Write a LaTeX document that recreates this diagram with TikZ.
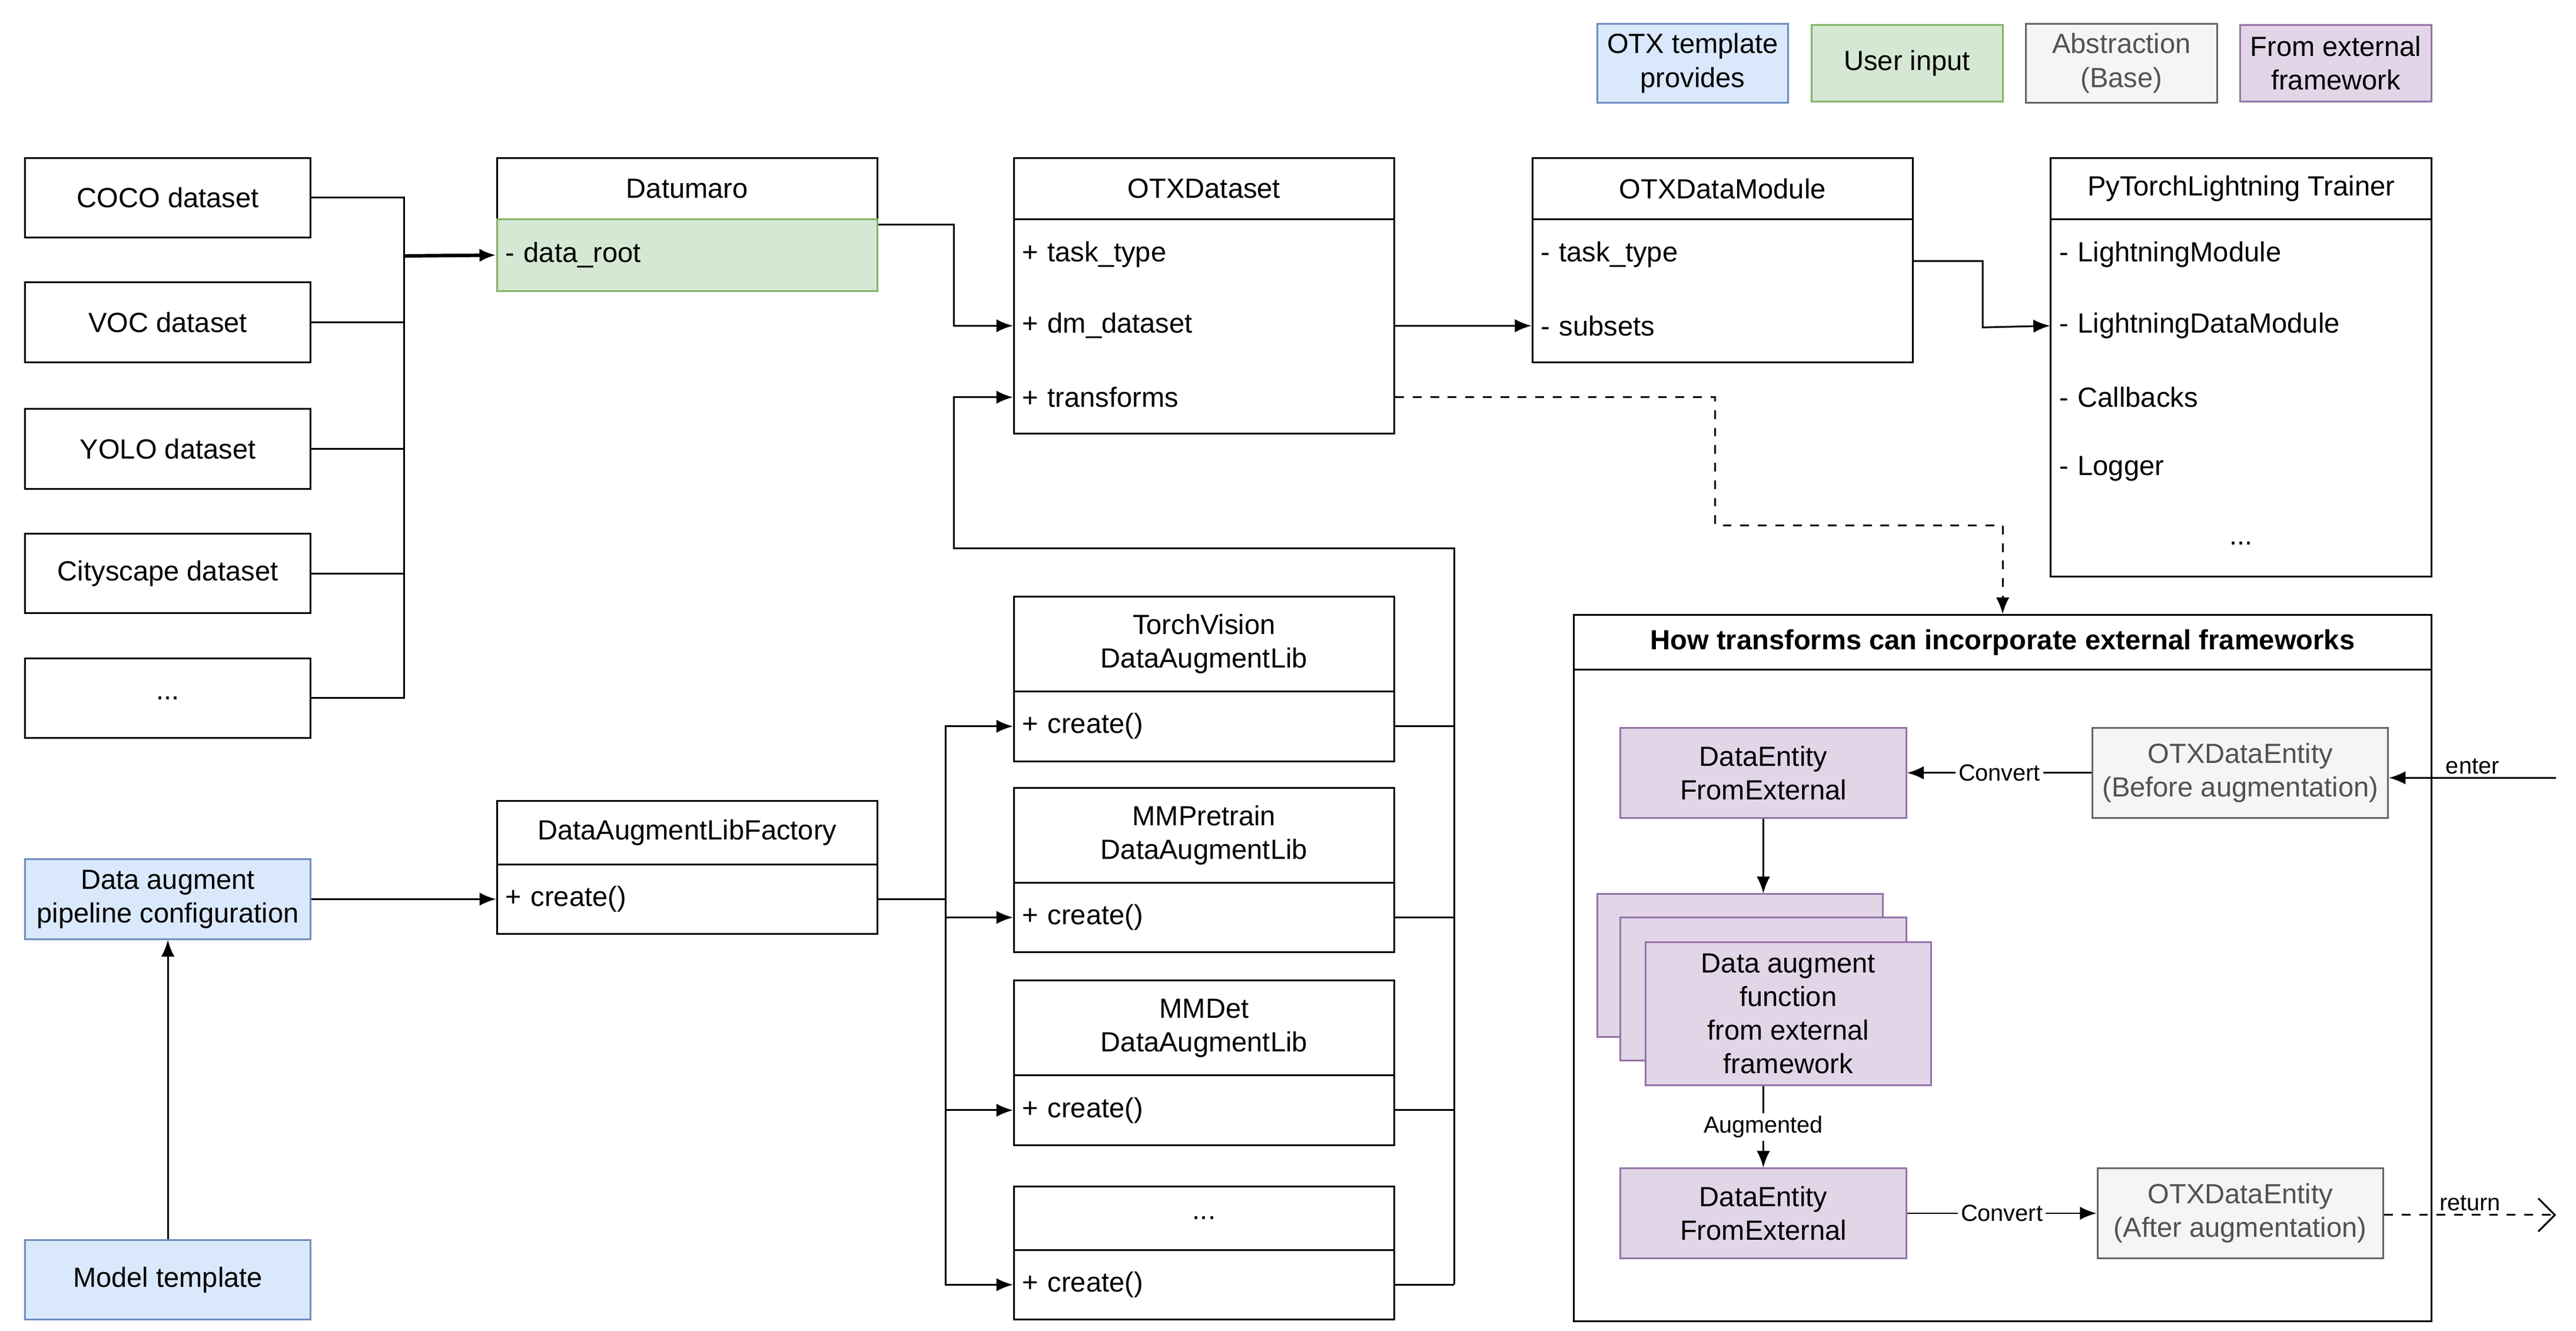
\documentclass[tikz,border=0pt]{standalone}
\usepackage{fontspec}
\setmainfont{Liberation Sans}
\usetikzlibrary{arrows.meta}
\definecolor{tplfill}{HTML}{DAE8FC}\definecolor{tpldraw}{HTML}{6C8EBF}
\definecolor{usrfill}{HTML}{D5E8D4}\definecolor{usrdraw}{HTML}{82B366}
\definecolor{absfill}{HTML}{F5F5F5}\definecolor{absdraw}{HTML}{666666}
\definecolor{extfill}{HTML}{E1D5E7}\definecolor{extdraw}{HTML}{9673A6}
\tikzset{
  box/.style = {draw, minimum width=3.44cm, minimum height=0.96cm, align=center},
  tpl/.style = {box, fill=tplfill, draw=tpldraw},
  usr/.style = {box, fill=usrfill, draw=usrdraw},
  abs/.style = {box, fill=absfill, draw=absdraw, text=absdraw!80!black},
  ext/.style = {box, fill=extfill, draw=extdraw},
  legend/.style = {minimum width=2.3cm, minimum height=0.92cm, align=center},
  head/.style = {draw, minimum width=4.58cm, align=center},
  row/.style = {text width=4.38cm, inner sep=0.1cm, align=left},
  lbl/.style = {fill=white, inner sep=1pt, font=\fontsize{8}{9}\selectfont},
}
\begin{document}
\begin{tikzpicture}[x=0.02cm, y=-0.02cm, line width=0.6pt, >={Latex[length=2mm,width=1.6mm]},
  font=\fontsize{9.5}{11.5}\selectfont]
\useasboundingbox (0,0) rectangle (1550,800.5);
% Legende
\node[tpl, legend] (lg-tpl) at (1018.5,38) {OTX template\\provides};
\node[usr, legend] (lg-usr) at (1147.5,38) {User input};
\node[abs, legend] (lg-abs) at (1276.5,38) {Abstraction\\(Base)};
\node[ext, legend] (lg-ext) at (1405.5,38) {From external\\framework};
% Datasets
\node[box] (coco) at (101,119) {COCO dataset};
\node[box] (voc) at (101,194) {VOC dataset};
\node[box] (yolo) at (101,270) {YOLO dataset};
\node[box] (city) at (101,345) {Cityscape dataset};
\node[box] (more) at (101,420) {...};
\coordinate (join) at (243,154);
\draw (coco.east) -| (join);
\draw (more.east) -| (join);
\draw (voc.east) -- (voc.east -| join);
\draw (yolo.east) -- (yolo.east -| join);
\draw (city.east) -- (city.east -| join);
% Datumaro
\node[head, minimum height=0.74cm] (dm-head) at (413.5,113.5) {Datumaro};
\node[draw=usrdraw, fill=usrfill, row, minimum height=0.86cm] (dm-root) at (413.5,153.5) {- data\_root};
\draw[->, line width=1.2pt] (join) -- (dm-root.west);
% OTXDataset
\node[head, minimum height=0.74cm] (ds-head) at (724.5,113.5) {OTXDataset};
\node[head, minimum height=2.58cm] (ds-body) at (724.5,196.5) {};
\node[row] (ds-type) at (724.5,153) {+ task\_type};
\node[row] (ds-dm) at (724.5,196) {+ dm\_dataset};
\node[row] (ds-tf) at (724.5,239) {+ transforms};
\draw[->] (dm-root.east |- 0,135) -| (574,196) -- (ds-dm.west);
% OTXDataModule
\node[head, minimum height=0.74cm] (mod-head) at (1036.5,113.5) {OTXDataModule};
\node[head, minimum height=1.72cm] (mod-body) at (1036.5,175) {};
\node[row] (mod-type) at (1036.5,153) {- task\_type};
\node[row] (mod-sub) at (1036.5,196) {- subsets};
\draw[->] (ds-dm.east) -- (mod-sub.west);
% Trainer
\node[head, minimum height=0.74cm] (tr-head) at (1348.5,113.5) {PyTorchLightning Trainer};
\node[head, minimum height=4.3cm] (tr-body) at (1348.5,239.5) {};
\node[row] (tr-mod) at (1348.5,153) {- LightningModule};
\node[row] (tr-data) at (1348.5,196) {- LightningDataModule};
\node[row] (tr-cb) at (1348.5,239) {- Callbacks};
\node[row] (tr-log) at (1348.5,282) {- Logger};
\node (tr-more) at (1348.5,327) {...};
\draw[->] (mod-type.east |- 0,157) -| (1193,197) -- (tr-data.west);
% Transforms
\node[draw, minimum width=10.32cm, minimum height=8.5cm] (ht-box) at (1205,582.5) {};
\node[draw, minimum width=10.32cm, minimum height=0.66cm, font=\fontsize{9.5}{11.5}\selectfont\bfseries] (ht-head) at (1205,386.5) {How transforms can incorporate external frameworks};
\draw[->, dashed] (ds-tf.east) -| (1032,316) -| (ht-head.north);
\node[ext, minimum height=1.08cm] (ent-in) at (1061,465) {DataEntity\\FromExternal};
\node[abs, minimum height=1.08cm] (otx-in) at (1348,465) {OTXDataEntity\\(Before augmentation)};
\node[ext, minimum height=1.72cm] (fn-a) at (1047,581) {};
\node[ext, minimum height=1.72cm] (fn-b) at (1061,595) {};
\node[ext, minimum height=1.72cm] (fn-c) at (1076,610) {Data augment\\function\\from external\\framework};
\node[ext, minimum height=1.08cm] (ent-out) at (1061,730) {DataEntity\\FromExternal};
\node[abs, minimum height=1.08cm] (otx-out) at (1348,730) {OTXDataEntity\\(After augmentation)};
\coordinate (enter) at (1538,468);
\coordinate (return) at (1538,731);
\draw[->] (enter) -- node[lbl, above, fill=none] {enter} (otx-in.east |- enter);
\draw[->] (otx-in.west) -- node[lbl] {Convert} (ent-in.east);
\draw[->] (ent-in.south) -- (fn-a.north -| ent-in.south);
\draw[->] (fn-c.south -| ent-out.north) -- node[lbl] {Augmented} (ent-out.north);
\draw[->] (ent-out.east) -- node[lbl] {Convert} (otx-out.west);
\draw[-{Straight Barb[length=2mm]}, dashed] (otx-out.east |- return) -- node[lbl, above, fill=none] {return} (return);
% Augment libs
\node[tpl] (cfg) at (101,541) {Data augment\\pipeline configuration};
\node[tpl] (tpl-model) at (101,770) {Model template};
\draw[->] (tpl-model.north) -- (cfg.south);
\node[head, minimum height=0.76cm] (fac-head) at (413.5,501) {DataAugmentLibFactory};
\node[head, row, minimum height=0.84cm] (fac-body) at (413.5,541) {+ create()};
\draw[->] (cfg.east) -- (fac-body.west);
\node[head, minimum height=1.14cm] (tv-head) at (724.5,387.5) {TorchVision\\DataAugmentLib};
\node[head, row, minimum height=0.84cm] (tv-body) at (724.5,437) {+ create()};
\node[head, minimum height=1.14cm] (mmp-head) at (724.5,502.5) {MMPretrain\\DataAugmentLib};
\node[head, row, minimum height=0.84cm] (mmp-body) at (724.5,552) {+ create()};
\node[head, minimum height=1.14cm] (mmd-head) at (724.5,618.5) {MMDet\\DataAugmentLib};
\node[head, row, minimum height=0.84cm] (mmd-body) at (724.5,668) {+ create()};
\node[head, minimum height=0.76cm] (etc-head) at (724.5,733) {...};
\node[head, row, minimum height=0.84cm] (etc-body) at (724.5,773) {+ create()};
\draw (fac-body.east) -- (569,541);
\foreach \lib in {tv,mmp,mmd,etc}{
  \draw[->] (569,541) |- (\lib-body.west);
  \draw (\lib-body.east) -- (875,0 |- \lib-body.east);
}
\draw[->] (875,773) -- (875,330) -| (574,239) -- (ds-tf.west);
\end{tikzpicture}
\end{document}
